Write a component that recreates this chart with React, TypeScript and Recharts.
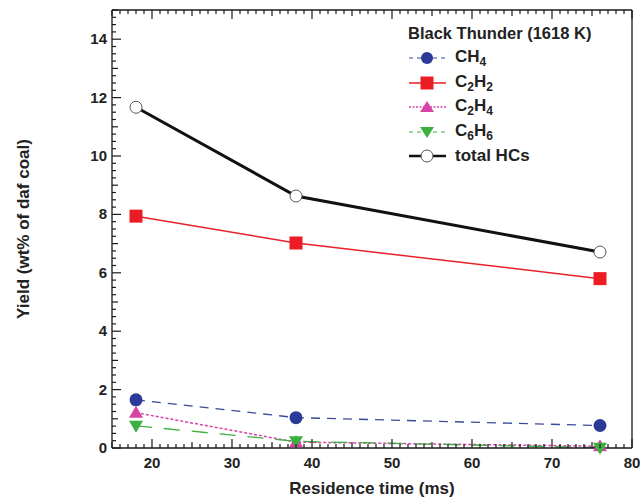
import React from "react";
import { LineChart, Line, XAxis, YAxis, Legend } from "recharts";

// residence time (ms) and yields (wt% of daf coal), Black Thunder at 1618 K
const times = [18, 38, 76];
const ch4 = [1.65, 1.04, 0.77];
const c2h2 = [7.94, 7.02, 5.8];
const c2h4 = [1.21, 0.2, 0.06];
const c6h6 = [0.76, 0.23, 0.01];
const totalHCs = [11.67, 8.63, 6.71];

const xMajorTicks = [20, 30, 40, 50, 60, 70, 80];
const yMajorTicks = [0, 2, 4, 6, 8, 10, 12, 14];

// minor tick grid: every 1 ms on x, every 0.25 on y
const xTicks = Array.from({ length: 66 }, (_, i) => 15 + i);
const yTicks = Array.from({ length: 61 }, (_, i) => i * 0.25);

const data = times.map((t, i) => ({
  time: t,
  ch4: ch4[i],
  c2h2: c2h2[i],
  c2h4: c2h4[i],
  c6h6: c6h6[i],
  total: totalHCs[i],
}));

const FONT = "'Liberation Sans', Arial, sans-serif";
const AXIS = "#1a1a1a";

const xLen = (v: number) => (xMajorTicks.includes(v) ? 9 : v % 5 === 0 ? 6 : 4);
const yLen = (v: number) => (yMajorTicks.includes(v) ? 9 : v % 1 === 0 ? 6 : 4);

const BottomTick = ({ x, y, payload }: any) => {
  const v = payload.value;
  return (
    <g>
      <line x1={x} x2={x} y1={y} y2={y - xLen(v)} stroke={AXIS} strokeWidth={1.2} />
      {xMajorTicks.includes(v) && (
        <text x={x} y={y + 20} textAnchor="middle" fontFamily={FONT} fontWeight="bold" fontSize={15} fill="#222">
          {v}
        </text>
      )}
    </g>
  );
};

const TopTick = ({ x, y, payload }: any) => (
  <line x1={x} x2={x} y1={y} y2={y + xLen(payload.value)} stroke={AXIS} strokeWidth={1.2} />
);

const LeftTick = ({ x, y, payload }: any) => {
  const v = payload.value;
  return (
    <g>
      <line x1={x} x2={x + yLen(v)} y1={y} y2={y} stroke={AXIS} strokeWidth={1.2} />
      {yMajorTicks.includes(v) && (
        <text x={x - 5} y={y + 5} textAnchor="end" fontFamily={FONT} fontWeight="bold" fontSize={15} fill="#222">
          {v}
        </text>
      )}
    </g>
  );
};

const RightTick = ({ x, y, payload }: any) => (
  <line x1={x} x2={x - yLen(payload.value)} y1={y} y2={y} stroke={AXIS} strokeWidth={1.2} />
);

const XTitle = ({ viewBox }: any) => (
  <text
    x={viewBox.x + viewBox.width / 2}
    y={viewBox.y + 46}
    textAnchor="middle"
    fontFamily={FONT}
    fontWeight="bold"
    fontSize={17}
    fill="#222"
  >
    Residence time (ms)
  </text>
);

const YTitle = ({ viewBox }: any) => {
  const cx = viewBox.x + 23;
  const cy = viewBox.y + viewBox.height / 2;
  return (
    <text
      x={cx}
      y={cy}
      transform={`rotate(-90 ${cx} ${cy})`}
      textAnchor="middle"
      dominantBaseline="central"
      fontFamily={FONT}
      fontWeight="bold"
      fontSize={17}
      fill="#222"
    >
      Yield (wt% of daf coal)
    </text>
  );
};

// markers
const circleDot = (props: any) => (
  <circle key={props.key} cx={props.cx} cy={props.cy} r={6.5} fill="#2b3a98" />
);
const squareDot = (props: any) => (
  <rect key={props.key} x={props.cx - 6.5} y={props.cy - 6.5} width={13} height={13} fill="#ec1c24" />
);
const triUpDot = (props: any) => (
  <path key={props.key} d={`M${props.cx},${props.cy - 7} L${props.cx + 7},${props.cy + 5} L${props.cx - 7},${props.cy + 5} Z`} fill="#d743a6" />
);
const triDownDot = (props: any) => (
  <path key={props.key} d={`M${props.cx},${props.cy + 7} L${props.cx + 7},${props.cy - 5} L${props.cx - 7},${props.cy - 5} Z`} fill="#3bb040" />
);
const openDot = (props: any) => (
  <circle key={props.key} cx={props.cx} cy={props.cy} r={6} fill="#fff" stroke="#555" strokeWidth={1} />
);

const legendItems = [
  { label: ["CH", "4"], color: "#3a4899", dash: "4 4", width: 1.2, marker: "circle" },
  { label: ["C", "2", "H", "2"], color: "#ec1c24", dash: "", width: 1.5, marker: "square" },
  { label: ["C", "2", "H", "4"], color: "#d743a6", dash: "2 1.5", width: 1.5, marker: "up" },
  { label: ["C", "6", "H", "6"], color: "#3bb040", dash: "4 4", width: 1.2, marker: "down" },
  { label: ["total HCs"], color: "#111", dash: "", width: 2.5, marker: "open" },
];

const LegendIcon = ({ item }: any) => {
  const c = 19;
  const m = 8;
  let mark;
  if (item.marker === "circle") mark = <circle cx={c} cy={m} r={6} fill="#2b3a98" />;
  else if (item.marker === "square") mark = <rect x={c - 6.5} y={m - 6.5} width={13} height={13} fill="#ec1c24" />;
  else if (item.marker === "up") mark = <path d={`M${c},${m - 6} L${c + 7},${m + 5} L${c - 7},${m + 5} Z`} fill="#d743a6" />;
  else if (item.marker === "down") mark = <path d={`M${c},${m + 6} L${c + 7},${m - 5} L${c - 7},${m - 5} Z`} fill="#3bb040" />;
  else mark = <circle cx={c} cy={m} r={6} fill="#fff" stroke="#555" strokeWidth={1} />;
  return (
    <svg width={40} height={16} style={{ display: "block" }}>
      <line x1={1} x2={38} y1={m} y2={m} stroke={item.color} strokeWidth={item.width} strokeDasharray={item.dash} />
      {mark}
    </svg>
  );
};

const renderLegend = () => (
  <div style={{ fontFamily: FONT, fontWeight: "bold", color: "#222" }}>
    <div style={{ fontSize: 16.5, height: 26, lineHeight: "26px" }}>Black Thunder (1618 K)</div>
    {legendItems.map((item) => (
      <div key={item.label.join("")} style={{ display: "flex", alignItems: "center", height: 24.5 }}>
        <LegendIcon item={item} />
        <span style={{ fontSize: 17, marginLeft: 7 }}>
          {item.label.map((part, i) =>
            i % 2 === 1 ? (
              <sub key={i} style={{ fontSize: 12 }}>{part}</sub>
            ) : (
              <span key={i}>{part}</span>
            )
          )}
        </span>
      </div>
    ))}
  </div>
);

export default function App() {
  return (
    <div style={{ position: "absolute", left: 0, top: 0, background: "#fff" }}>
      <LineChart width={640} height={501} data={data} margin={{ top: 9, right: 7, bottom: 0, left: 0 }}>
        <XAxis
          dataKey="time"
          type="number"
          domain={[15, 80]}
          ticks={xTicks}
          interval={0}
          height={53}
          tickSize={0}
          tickMargin={0}
          tickLine={false}
          tick={<BottomTick />}
          axisLine={{ stroke: AXIS, strokeWidth: 1.3 }}
          label={<XTitle />}
        />
        <XAxis
          xAxisId="top"
          dataKey="time"
          orientation="top"
          type="number"
          domain={[15, 80]}
          ticks={xTicks}
          interval={0}
          height={1}
          tickSize={0}
          tickMargin={0}
          tickLine={false}
          tick={<TopTick />}
          axisLine={{ stroke: AXIS, strokeWidth: 1.3 }}
        />
        <YAxis
          type="number"
          domain={[0, 15]}
          ticks={yTicks}
          interval={0}
          width={112}
          tickSize={0}
          tickMargin={0}
          tickLine={false}
          tick={<LeftTick />}
          axisLine={{ stroke: AXIS, strokeWidth: 1.3 }}
          label={<YTitle />}
        />
        <YAxis
          yAxisId="right"
          orientation="right"
          type="number"
          domain={[0, 15]}
          ticks={yTicks}
          interval={0}
          width={1}
          tickSize={0}
          tickMargin={0}
          tickLine={false}
          tick={<RightTick />}
          axisLine={{ stroke: AXIS, strokeWidth: 1.3 }}
        />
        <Legend
          content={renderLegend}
          layout="vertical"
          align="center"
          verticalAlign="middle"
          wrapperStyle={{ left: 408, top: 20, width: 225, height: "auto" }}
        />
        <Line dataKey="total" stroke="#111" strokeWidth={3} dot={openDot} isAnimationActive={false} />
        <Line dataKey="c2h2" stroke="#e8202a" strokeWidth={1.5} dot={squareDot} isAnimationActive={false} />
        <Line dataKey="ch4" stroke="#3a4899" strokeWidth={1.3} strokeDasharray="9 7" dot={circleDot} isAnimationActive={false} />
        <Line dataKey="c2h4" stroke="#d743a6" strokeWidth={1.5} strokeDasharray="3 2" dot={triUpDot} isAnimationActive={false} />
        <Line dataKey="c6h6" stroke="#3bb040" strokeWidth={1.3} strokeDasharray="16 12" dot={triDownDot} isAnimationActive={false} />
      </LineChart>
    </div>
  );
}
